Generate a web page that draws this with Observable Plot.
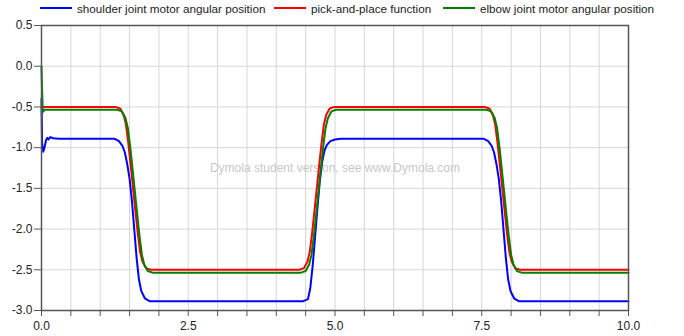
<!DOCTYPE html>
<html><head><meta charset="utf-8">
<script src="https://cdn.jsdelivr.net/npm/d3@7"></script>
<script src="https://cdn.jsdelivr.net/npm/@observablehq/plot@0.6"></script>
<style>
body{margin:0;background:#fff;font-family:"Liberation Sans",Arial,sans-serif;}
#legend{position:relative;height:18px;width:684px;font-size:11.7px;color:#222}
.item{position:absolute;top:1px;display:flex;align-items:center;height:14px;white-space:nowrap}
.sw{width:32px;height:2px;margin-right:5px}
</style></head><body>
<div id="legend"></div><div id="chart"></div>
<script>
// Series names and colours
const seriesNames = ["shoulder joint motor angular position", "pick-and-place function", "elbow joint motor angular position"];
const seriesColors = ["#0000ff", "#ff0000", "#008000"];

// Tick values
const xTicks = [0, 2.5, 5, 7.5, 10];
const xGrid = [0,0.5,1,1.5,2,2.5,3,3.5,4,4.5,5,5.5,6,6.5,7,7.5,8,8.5,9,9.5,10];
const yTicks = [0.5,0,-0.5,-1,-1.5,-2,-2.5,-3];

// shoulder joint motor angular position (blue)
const blueT = [0,0.01,0.03,0.05,0.08,0.1,0.12,0.15,0.2,0.3,
  1.24,1.32,1.38,1.42,1.46,1.50,1.54,1.58,1.62,1.66,1.70,1.76,1.84,
  4.46,4.54,4.58,4.62,4.66,4.70,4.74,4.78,4.82,4.86,4.92,5.0,5.1,
  7.53,7.61,7.67,7.71,7.75,7.79,7.83,7.87,7.91,7.95,7.99,8.05,8.13,
  10];
const blueV = [-0.4,-0.95,-1.05,-1.0,-0.9,-0.88,-0.9,-0.87,-0.885,-0.89,
  -0.89,-0.92,-0.98,-1.06,-1.2,-1.38,-1.65,-2.0,-2.35,-2.62,-2.76,-2.85,-2.885,
  -2.885,-2.86,-2.72,-2.45,-2.1,-1.75,-1.42,-1.18,-1.04,-0.97,-0.92,-0.9,-0.89,
  -0.89,-0.92,-0.98,-1.06,-1.2,-1.38,-1.65,-2.0,-2.35,-2.62,-2.76,-2.85,-2.885,
  -2.885];

// pick-and-place function (red)
const redT = [0,
  1.26,1.34,1.40,1.44,1.48,1.52,1.56,1.60,1.64,1.68,1.72,1.78,1.86,
  4.39,4.47,4.53,4.57,4.61,4.65,4.69,4.73,4.77,4.81,4.85,4.91,4.99,
  7.55,7.63,7.69,7.73,7.77,7.81,7.85,7.89,7.93,7.97,8.01,8.07,8.15,
  10];
const redV = [-0.5,
  -0.5,-0.52,-0.6,-0.72,-0.95,-1.22,-1.5,-1.78,-2.05,-2.28,-2.4,-2.48,-2.5,
  -2.5,-2.48,-2.4,-2.28,-2.05,-1.78,-1.5,-1.22,-0.95,-0.72,-0.6,-0.52,-0.5,
  -0.5,-0.52,-0.6,-0.72,-0.95,-1.22,-1.5,-1.78,-2.05,-2.28,-2.4,-2.48,-2.5,
  -2.5];

// elbow joint motor angular position (green)
const greenT = [0,0.01,0.02,0.03,0.05,
  1.29,1.37,1.43,1.47,1.51,1.55,1.59,1.63,1.67,1.71,1.75,1.81,1.89,
  4.42,4.50,4.56,4.60,4.64,4.68,4.72,4.76,4.80,4.84,4.88,4.94,5.02,
  7.58,7.66,7.72,7.76,7.80,7.84,7.88,7.92,7.96,8.00,8.04,8.10,8.18,
  10];
const greenV = [0,-0.3,-0.52,-0.56,-0.535,
  -0.535,-0.555,-0.635,-0.755,-0.985,-1.255,-1.535,-1.815,-2.085,-2.315,-2.435,-2.515,-2.535,
  -2.535,-2.515,-2.435,-2.315,-2.085,-1.815,-1.535,-1.255,-0.985,-0.755,-0.635,-0.555,-0.535,
  -0.535,-0.555,-0.635,-0.755,-0.985,-1.255,-1.535,-1.815,-2.085,-2.315,-2.435,-2.515,-2.535,
  -2.535];

const watermark = "Dymola student version, see www.Dymola.com";

// Legend
const legendLefts = [40, 274, 443];
const legend = document.getElementById("legend");
seriesNames.forEach((n, i) => {
  const it = document.createElement("div");
  it.className = "item";
  it.style.left = legendLefts[i] + "px";
  const sw = document.createElement("span");
  sw.className = "sw";
  sw.style.background = seriesColors[i];
  const tx = document.createElement("span");
  tx.textContent = n;
  it.appendChild(sw); it.appendChild(tx);
  legend.appendChild(it);
});

const toRows = (T, V) => T.map((t, i) => ({t, v: V[i]}));
const blue = toRows(blueT, blueV), red = toRows(redT, redV), green = toRows(greenT, greenV);

const chart = Plot.plot({
  width: 684,
  height: 318,
  marginTop: 7,
  marginBottom: 26,
  marginLeft: 41,
  marginRight: 56,
  x: {domain: [0, 10]},
  y: {domain: [-3, 0.5]},
  style: {fontFamily: '"Liberation Sans", Arial, sans-serif', fontSize: "12px", background: "white", color: "#222"},
  marks: [
    Plot.gridX(xGrid, {stroke: "#d6d6d6", strokeOpacity: 1}),
    Plot.gridY(yTicks, {stroke: "#d6d6d6", strokeOpacity: 1}),
    Plot.text([watermark], {frameAnchor: "middle", fill: "#c8c8c8", fontSize: 12}),
    Plot.line(blue, {x: "t", y: "v", stroke: seriesColors[0], strokeWidth: 2}),
    Plot.line(red, {x: "t", y: "v", stroke: seriesColors[1], strokeWidth: 2}),
    Plot.line(green, {x: "t", y: "v", stroke: seriesColors[2], strokeWidth: 2}),
    Plot.frame({stroke: "#555", strokeWidth: 1.5}),
    Plot.axisY(yTicks, {tickSize: 7, tickPadding: 2, tickFormat: d => d.toFixed(1), stroke: "#555", fill: "#222", fontSize: 12, label: null}),
    Plot.axisX(xGrid, {tickSize: 6, tickPadding: 5, tickFormat: d => (xTicks.includes(d) ? d.toFixed(1) : ""), stroke: "#555", fill: "#222", fontSize: 12, label: null})
  ]
});
document.getElementById("chart").appendChild(chart);
</script>
</body></html>
